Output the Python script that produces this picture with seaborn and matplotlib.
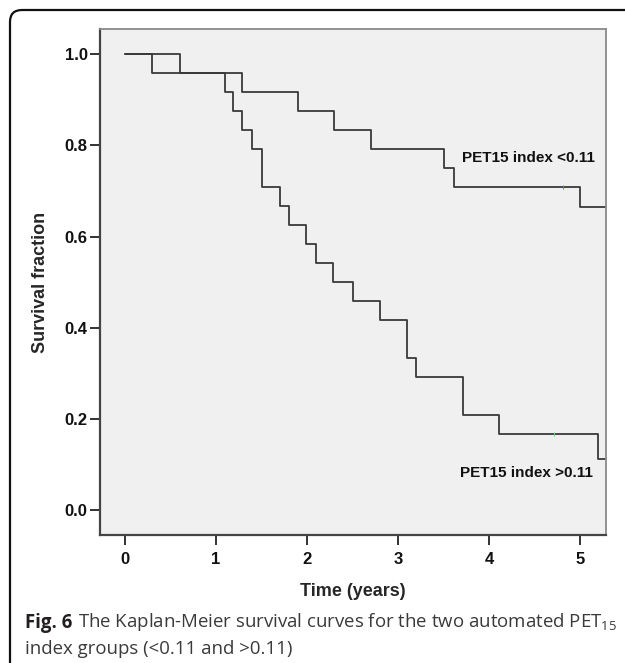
import pandas as pd
import matplotlib
import matplotlib.pyplot as plt
from matplotlib.patches import FancyBboxPatch
import seaborn as sns

# Kaplan-Meier step data (time in years, survival fraction)
low_times = [0.0, 0.60, 1.29, 1.90, 2.30, 2.70, 3.50, 3.61, 5.00, 5.30]
low_surv = [1.0, 0.958, 0.917, 0.875, 0.833, 0.792, 0.750, 0.708, 0.664, 0.664]

high_times = [0.0, 0.30, 1.10, 1.19, 1.29, 1.40, 1.50, 1.70, 1.80, 1.99,
              2.10, 2.29, 2.50, 2.80, 3.10, 3.20, 3.71, 4.11, 5.20, 5.30]
high_surv = [1.0, 0.958, 0.917, 0.875, 0.833, 0.792, 0.708, 0.667, 0.625, 0.583,
             0.542, 0.500, 0.458, 0.417, 0.333, 0.292, 0.208, 0.167, 0.111, 0.111]

# censored observations
low_censor_t, low_censor_s = [4.81], [0.708]
high_censor_t, high_censor_s = [4.71], [0.167]

group_labels = ["PET15 index <0.11", "PET15 index >0.11"]
x_ticks = [0, 1, 2, 3, 4, 5]
y_ticks = [0.0, 0.2, 0.4, 0.6, 0.8, 1.0]

df = pd.concat([
    pd.DataFrame({"Time": low_times, "Survival": low_surv, "Group": group_labels[0]}),
    pd.DataFrame({"Time": high_times, "Survival": high_surv, "Group": group_labels[1]}),
])

sns.set_theme(style="white")
plt.rcParams["font.family"] = ["Liberation Sans", "DejaVu Sans"]
plt.rcParams["mathtext.fontset"] = "custom"
plt.rcParams["mathtext.rm"] = "Open Sans"

fig = plt.figure(figsize=(6.25, 6.63), dpi=100)
ax = fig.add_axes([0.16, 0.193, 0.809, 0.763])
ax.set_facecolor("#f0f0f0")

sns.lineplot(data=df, x="Time", y="Survival", units="Group", estimator=None,
             drawstyle="steps-post", color="#3a3a3a", linewidth=1.3,
             sort=False, ax=ax, legend=False)

ax.plot(low_censor_t, low_censor_s, marker="|", ms=3, mew=0.8,
        color="#6a78d8", linestyle="none")
ax.plot(high_censor_t, high_censor_s, marker="|", ms=3, mew=0.8,
        color="#7ad07a", linestyle="none")

ax.set_xlim(-0.275, 5.28)
ax.set_ylim(-0.055, 1.055)
ax.set_xticks(x_ticks)
ax.set_yticks(y_ticks)
ax.set_xticklabels([str(t) for t in x_ticks], fontsize=12, fontweight="bold")
ax.set_yticklabels([f"{t:.1f}" for t in y_ticks], fontsize=12, fontweight="bold")
ax.tick_params(axis="both", direction="out", length=7, width=1.4,
               color="#333333", labelcolor="#111111", bottom=True, left=True)
ax.tick_params(axis="x", pad=5)
ax.tick_params(axis="y", pad=2)

ax.set_xlabel("Time (years)", fontsize=13, fontweight="bold", labelpad=12)
ax.set_ylabel("Survival fraction", fontsize=13, fontweight="bold", labelpad=11)

for side in ["left", "bottom"]:
    ax.spines[side].set_color("#444444")
    ax.spines[side].set_linewidth(1.6)
for side in ["top", "right"]:
    ax.spines[side].set_color("#8a8a8a")
    ax.spines[side].set_linewidth(1.3)

ax.text(3.70, 0.772, group_labels[0], fontsize=11, fontweight="bold",
        va="center", ha="left", color="#111111")
ax.text(3.68, 0.081, group_labels[1], fontsize=11, fontweight="bold",
        va="center", ha="left", color="#111111")

# outer caption frame, cut off at the right and bottom
frame = FancyBboxPatch((0.10, -1.0), 7.0, 7.53, boxstyle="round,pad=0,rounding_size=0.12",
                       transform=fig.dpi_scale_trans, facecolor="none",
                       edgecolor="#111111", linewidth=1.6, zorder=-5)
fig.patches.append(frame)

# caption
cap_font = ["Open Sans", "DejaVu Sans"]
cap_size = 13.4
t1 = fig.text(25 / 625, 1 - 628 / 663, "Fig. 6", fontsize=cap_size, fontweight="bold",
              family=cap_font, color="#231f20", va="baseline")
ax.annotate("The Kaplan-Meier survival curves for the two automated PET$_{\\mathrm{15}}$",
            xy=(1, 0), xycoords=t1, xytext=(4, 0), textcoords="offset points",
            fontsize=cap_size, family=cap_font, color="#3a3a3a", va="bottom",
            annotation_clip=False)
fig.text(25 / 625, 1 - 654 / 663, "index groups (<0.11 and >0.11)", fontsize=cap_size,
         family=cap_font, color="#3a3a3a", va="baseline")

fig.savefig("out.png", dpi=100)
